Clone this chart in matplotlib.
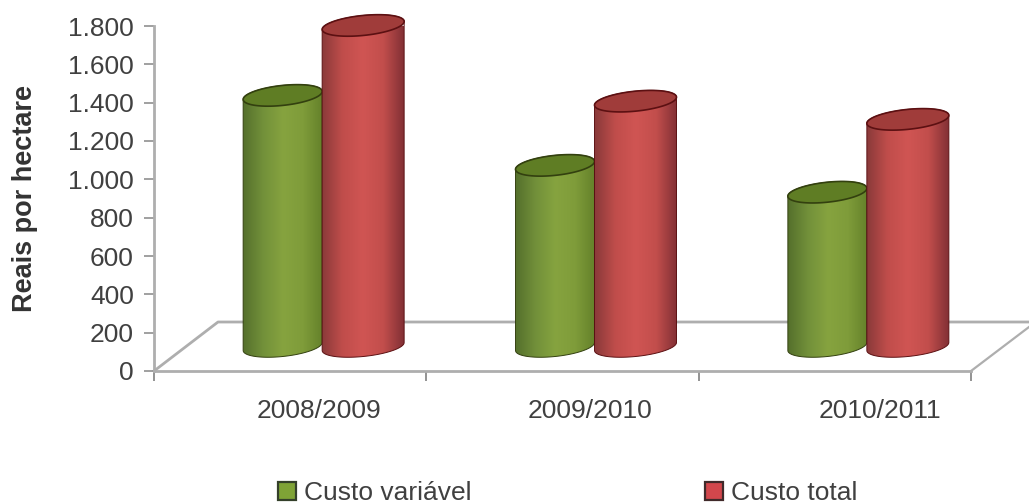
import matplotlib
matplotlib.use('Agg')
import matplotlib.pyplot as plt
import numpy as np
from matplotlib.colors import LinearSegmentedColormap
from matplotlib.patches import Patch, Polygon

safras = ['2008/2009', '2009/2010', '2010/2011']
custo_variavel = [1310, 945, 805]
custo_total = [1675, 1280, 1185]
y_ticks = [0, 200, 400, 600, 800, 1000, 1200, 1400, 1600, 1800]
y_tick_labels = ['0', '200', '400', '600', '800', '1.000', '1.200', '1.400', '1.600', '1.800']

plt.rcParams['font.family'] = ['Liberation Sans', 'DejaVu Sans']

# cores do corpo (esquerda para direita), tampa e contorno
verde_corpo = ['#55702c', '#72903a', '#86a33f', '#7f9c3a', '#64812a']
verde_tampa = '#5f7d24'
verde_linha = '#33400f'
vermelho_corpo = ['#8a3a3a', '#c04d4b', '#d05553', '#c24e4c', '#823035']
vermelho_tampa = '#a03c3a'
vermelho_linha = '#5c1012'
texto = '#404040'

W, H = 1029, 504
x0, x1 = 154, 971
y0, y1 = 371, 26

# conversao de pixels para as unidades do eixo
px_x = 3.0 / (x1 - x0)
px_y = 1800.0 / (y0 - y1)

# profundidade do piso em perspectiva
depth_x = 64 * px_x
depth_y = 49 * px_y


def desenha_cilindro(ax, cx, valor, semi_larg, corpo_cores, tampa_cor, linha_cor, zorder):
    base = depth_y / 2
    topo = base + valor
    b = 10 * px_y
    tilt = 4 * px_y

    t_fundo = np.linspace(np.pi, 2 * np.pi, 60)
    x_fundo = cx + semi_larg * np.cos(t_fundo)
    y_fundo = base + b * np.sin(t_fundo) + tilt * np.cos(t_fundo)
    t_topo = np.linspace(0, np.pi, 60)
    x_topo = cx + semi_larg * np.cos(t_topo)
    y_topo = topo + b * np.sin(t_topo) + tilt * np.cos(t_topo)

    # corpo com gradiente horizontal recortado pelo contorno
    corpo = np.column_stack([np.r_[x_fundo, x_topo], np.r_[y_fundo, y_topo]])
    contorno = Polygon(corpo, closed=True, facecolor='none', edgecolor=linha_cor,
                       linewidth=0.7, zorder=zorder + 0.2, clip_on=False)
    ax.add_patch(contorno)
    cmap = LinearSegmentedColormap.from_list('c', corpo_cores)
    img = ax.imshow(np.linspace(0, 1, 256).reshape(1, -1), cmap=cmap, aspect='auto',
                    extent=[cx - semi_larg, cx + semi_larg, base - 2 * b, topo + 2 * b],
                    zorder=zorder, interpolation='bilinear')
    img.set_clip_path(contorno)

    # tampa do cilindro
    t = np.linspace(0, 2 * np.pi, 120)
    tampa = np.column_stack([cx + semi_larg * np.cos(t),
                             topo + b * np.sin(t) + tilt * np.cos(t)])
    ax.add_patch(Polygon(tampa, closed=True, facecolor=tampa_cor, edgecolor=linha_cor,
                         linewidth=1.2, zorder=zorder + 0.3, clip_on=False))


fig = plt.figure(figsize=(W / 100, H / 100), dpi=100)
ax = fig.add_axes([x0 / W, 1 - y0 / H, (x1 - x0) / W, (y0 - y1) / H])

# piso
cinza = '#aeaeae'
ax.plot([0, depth_x, 3 + 58 * px_x], [0, depth_y, depth_y], color=cinza, linewidth=2,
        clip_on=False, zorder=1)
ax.plot([3, 3 + 58 * px_x], [0, 44 * px_y], color=cinza, linewidth=1.6, clip_on=False, zorder=1)

for i in range(len(safras)):
    cx = i + 0.5 + depth_x / 2
    semi = 39.5 * px_x
    desenha_cilindro(ax, cx - semi, custo_variavel[i], semi, verde_corpo, verde_tampa, verde_linha, 3)
    desenha_cilindro(ax, cx + semi + 1.5 * px_x, custo_total[i], 41 * px_x, vermelho_corpo,
                     vermelho_tampa, vermelho_linha, 5)

ax.set_xlim(0, 3)
ax.set_ylim(0, 1800)
ax.set_xticks([0, 1, 2, 3])
ax.set_xticklabels([])

# os rotulos das safras nao ficam exatamente no centro de cada intervalo
centros_rotulos = [319, 590, 880]
for s, c in zip(safras, centros_rotulos):
    ax.text((c - x0) * px_x, -(411 - y0) * px_y, s, ha='center', va='center',
            fontsize=19, color=texto)

ax.set_yticks(y_ticks)
ax.set_yticklabels(y_tick_labels, fontsize=19, color=texto)
ax.tick_params(axis='y', direction='out', length=7.5, width=1.2, color='#909090', pad=7)
ax.tick_params(axis='x', direction='out', length=7, width=1.2, color='#808080')
for lado in ['top', 'right']:
    ax.spines[lado].set_visible(False)
for lado in ['left', 'bottom']:
    ax.spines[lado].set_color(cinza)
    ax.spines[lado].set_linewidth(2)

fig.text(25 / W, 1 - 199 / H, 'Reais por hectare', rotation=90, ha='center', va='center',
         fontsize=19.5, fontweight='bold', color='#333333')

handles = [Patch(facecolor='#7fa336', edgecolor='#34402a', linewidth=1.6, label='Custo variável'),
           Patch(facecolor='#d2474c', edgecolor='#402a2a', linewidth=1.6, label='Custo total')]
fig.legend(handles=handles, ncols=2, loc='center left', bbox_to_anchor=(278 / W, 1 - 493 / H),
           frameon=False, fontsize=19, handlelength=0.68, handleheight=0.68,
           handletextpad=0.3, columnspacing=8.85, labelcolor=texto, borderpad=0, borderaxespad=0)

fig.savefig('out.png', dpi=100)
